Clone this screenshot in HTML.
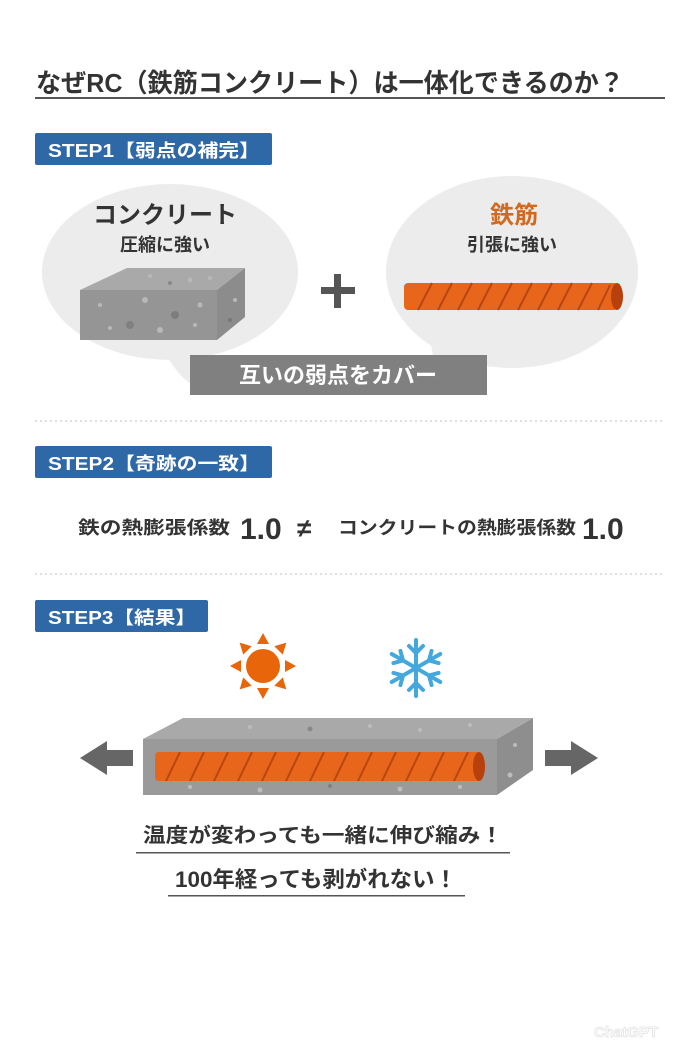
<!DOCTYPE html>
<html><head><meta charset="utf-8"><style>
html,body{margin:0;padding:0;background:#fff;}
svg{display:block;}
text{font-family:"Liberation Sans","Noto Sans CJK JP",sans-serif;font-weight:bold;}
</style></head><body>
<svg width="700" height="1050" viewBox="0 0 700 1050" xmlns="http://www.w3.org/2000/svg">
<rect width="700" height="1050" fill="#fff"/>
<!-- Title -->
<text x="36" y="92" font-size="26" fill="#333" textLength="588" lengthAdjust="spacingAndGlyphs">なぜRC（鉄筋コンクリート）は一体化できるのか？</text>
<rect x="35" y="97" width="630" height="2" fill="#555"/>

<!-- STEP1 -->
<rect x="35" y="133" width="237" height="32" rx="2" fill="#2f68a6"/>
<text x="48" y="157" font-size="18" fill="#fff" textLength="212" lengthAdjust="spacingAndGlyphs">STEP1【弱点の補完】</text>

<!-- bubbles -->
<ellipse cx="170" cy="272" rx="128" ry="88" fill="#ececec"/>
<path d="M160 340 Q175 380 205 392 L215 340 Z" fill="#ececec"/>
<ellipse cx="512" cy="272" rx="126" ry="96" fill="#ececec"/>
<path d="M470 340 Q465 380 440 392 L430 340 Z" fill="#ececec"/>

<text x="165" y="223" font-size="24" fill="#333" text-anchor="middle">コンクリート</text>
<text x="165" y="251" font-size="18" fill="#333" text-anchor="middle">圧縮に強い</text>
<text x="514" y="223" font-size="24" fill="#d2691e" text-anchor="middle">鉄筋</text>
<text x="512" y="251" font-size="18" fill="#333" text-anchor="middle">引張に強い</text>

<!-- concrete block -->
<polygon points="80,290 127,268 245,268 217,290" fill="#a9a9a9"/>
<polygon points="217,290 245,268 245,317 217,340" fill="#8c8c8c"/>
<rect x="80" y="290" width="137" height="50" fill="#959595"/>
<g fill="#b8b8b8">
<circle cx="100" cy="305" r="2"/><circle cx="145" cy="300" r="3"/><circle cx="175" cy="315" r="4" fill="#7d7d7d"/><circle cx="130" cy="325" r="4" fill="#808080"/><circle cx="160" cy="330" r="3"/><circle cx="200" cy="305" r="2.5"/><circle cx="110" cy="328" r="2"/><circle cx="195" cy="325" r="2"/>
<circle cx="150" cy="276" r="2"/><circle cx="190" cy="280" r="2.5"/><circle cx="210" cy="278" r="2"/><circle cx="170" cy="283" r="2" fill="#888"/>
<circle cx="235" cy="300" r="2"/><circle cx="230" cy="320" r="2" fill="#777"/>
</g>

<!-- plus -->
<rect x="321" y="287" width="34" height="7" fill="#555"/>
<rect x="334" y="274" width="7" height="34" fill="#555"/>

<!-- rebar -->
<rect x="404" y="283" width="214" height="27" rx="4" fill="#e8661c"/>
<ellipse cx="617" cy="296.5" rx="6" ry="13.5" fill="#b8400c"/>
<g stroke="#b8460f" stroke-width="2" fill="none">
<path d="M418 310 L432 283"/><path d="M438 310 L452 283"/><path d="M458 310 L472 283"/><path d="M478 310 L492 283"/><path d="M498 310 L512 283"/><path d="M518 310 L532 283"/><path d="M538 310 L552 283"/><path d="M558 310 L572 283"/><path d="M578 310 L592 283"/><path d="M598 310 L610 285"/>
</g>

<!-- banner -->
<rect x="190" y="355" width="297" height="40" fill="#808080"/>
<text x="338" y="383" font-size="22" fill="#fff" text-anchor="middle">互いの弱点をカバー</text>

<line x1="35" y1="421" x2="665" y2="421" stroke="#ccc" stroke-width="1.2" stroke-dasharray="2,3"/>

<!-- STEP2 -->
<rect x="35" y="446" width="237" height="32" rx="2" fill="#2f68a6"/>
<text x="48" y="470" font-size="18" fill="#fff" textLength="212" lengthAdjust="spacingAndGlyphs">STEP2【奇跡の一致】</text>

<text x="78" y="534" font-size="18" fill="#333" textLength="152" lengthAdjust="spacingAndGlyphs">鉄の熱膨張係数</text>
<text x="240" y="539" font-size="30" fill="#333">1.0</text>
<text x="297" y="537" font-size="26" fill="#333">≠</text>
<text x="338" y="534" font-size="18" fill="#333" textLength="238" lengthAdjust="spacingAndGlyphs">コンクリートの熱膨張係数</text>
<text x="582" y="539" font-size="30" fill="#333">1.0</text>

<line x1="35" y1="574" x2="665" y2="574" stroke="#ccc" stroke-width="1.2" stroke-dasharray="2,3"/>

<!-- STEP3 -->
<rect x="35" y="600" width="173" height="32" rx="2" fill="#2f68a6"/>
<text x="48" y="624" font-size="18" fill="#fff" textLength="148" lengthAdjust="spacingAndGlyphs">STEP3【結果】</text>

<!-- sun -->
<g fill="#e8650a" transform="translate(263,666)">
<circle r="17"/>
<g id="ray"><polygon points="-6,-22 6,-22 0,-33"/></g>
<use href="#ray" transform="rotate(45)"/><use href="#ray" transform="rotate(90)"/><use href="#ray" transform="rotate(135)"/><use href="#ray" transform="rotate(180)"/><use href="#ray" transform="rotate(225)"/><use href="#ray" transform="rotate(270)"/><use href="#ray" transform="rotate(315)"/>
</g>
<!-- snowflake -->
<g stroke="#45a8dc" stroke-width="4" stroke-linecap="round" fill="none" transform="translate(416,668)">
<g id="arm"><line x1="0" y1="0" x2="0" y2="-28"/><polyline points="-7,-22 0,-15 7,-22"/></g>
<use href="#arm" transform="rotate(60)"/><use href="#arm" transform="rotate(120)"/><use href="#arm" transform="rotate(180)"/><use href="#arm" transform="rotate(240)"/><use href="#arm" transform="rotate(300)"/>
</g>

<!-- beam -->
<polygon points="143,739 183,718 533,718 497,739" fill="#a9a9a9"/>
<polygon points="497,739 533,718 533,770 497,795" fill="#8e8e8e"/>
<rect x="143" y="739" width="354" height="56" fill="#9a9a9a"/>
<g fill="#bcbcbc">
<circle cx="250" cy="727" r="2"/><circle cx="310" cy="729" r="2.5" fill="#888"/><circle cx="370" cy="726" r="2"/><circle cx="420" cy="730" r="2"/><circle cx="470" cy="725" r="2"/>
<circle cx="190" cy="787" r="2"/><circle cx="260" cy="790" r="2.5"/><circle cx="330" cy="786" r="2" fill="#808080"/><circle cx="400" cy="789" r="2.5"/><circle cx="460" cy="787" r="2"/>
<circle cx="515" cy="745" r="2"/><circle cx="510" cy="775" r="2.5"/>
</g>
<rect x="155" y="752" width="326" height="29" rx="4" fill="#e8661c"/>
<ellipse cx="479" cy="766.5" rx="6" ry="14.5" fill="#b8400c"/>
<g stroke="#b8460f" stroke-width="2" fill="none">
<path d="M166 781 L180 752"/><path d="M190 781 L204 752"/><path d="M214 781 L228 752"/><path d="M238 781 L252 752"/><path d="M262 781 L276 752"/><path d="M286 781 L300 752"/><path d="M310 781 L324 752"/><path d="M334 781 L348 752"/><path d="M358 781 L372 752"/><path d="M382 781 L396 752"/><path d="M406 781 L420 752"/><path d="M430 781 L444 752"/><path d="M454 781 L468 752"/>
</g>

<!-- arrows -->
<polygon points="80,758 107,741 107,750 133,750 133,766 107,766 107,775" fill="#666"/>
<polygon points="598,758 571,741 571,750 545,750 545,766 571,766 571,775" fill="#666"/>

<!-- bottom texts -->
<text x="323" y="842" font-size="20" fill="#333" text-anchor="middle" textLength="360" lengthAdjust="spacingAndGlyphs">温度が変わっても一緒に伸び縮み！</text>
<rect x="136" y="852" width="374" height="1.5" fill="#555"/>
<text x="316" y="887" font-size="22" fill="#333" text-anchor="middle" textLength="282" lengthAdjust="spacingAndGlyphs">100年経っても剥がれない！</text>
<rect x="168" y="895" width="297" height="1.5" fill="#555"/>

<text x="594" y="1037" font-size="15" fill="none" stroke="#e2e2e2" stroke-width="0.8" font-weight="normal">ChatGPT</text>
</svg>
</body></html>
